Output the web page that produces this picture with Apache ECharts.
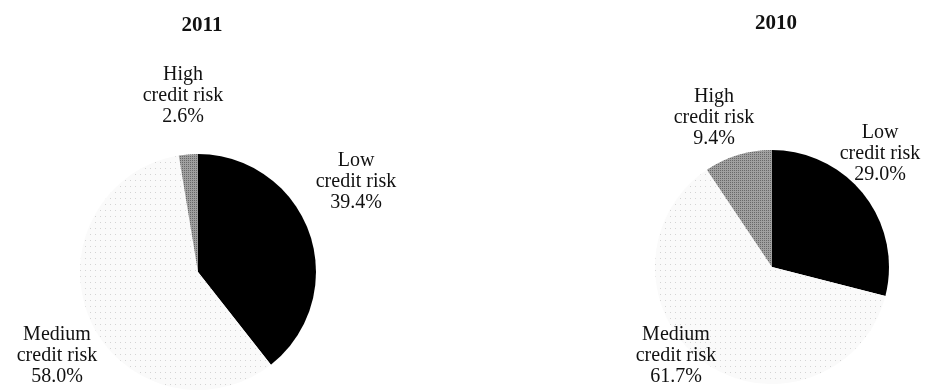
<!DOCTYPE html>
<html><head><meta charset="utf-8">
<script src="https://cdn.jsdelivr.net/npm/echarts@6/dist/echarts.min.js"></script>
<style>html,body{margin:0;padding:0;background:#fff}#c{width:940px;height:390px}</style>
</head><body><div id="c"></div>
<script>
const categories = ['Low\ncredit risk', 'Medium\ncredit risk', 'High\ncredit risk'];
const values2011 = [39.4, 58.0, 2.6];
const values2010 = [29.0, 61.7, 9.4];
const titles = ['2011', '2010'];

const colors = ['#000000', '#fafafa', '#a0a0a0'];
const decals = [
  null,
  {symbol: 'rect', symbolSize: 1, dashArrayX: [1, 4], dashArrayY: [1, 5], color: 'rgba(0,0,0,0.15)'},
  {symbol: 'rect', symbolSize: 1, dashArrayX: [1, 1], dashArrayY: [1, 1], color: 'rgba(0,0,0,0.35)'}
];

const labelPos = [
  [[356, 182], [57, 356], [183, 96]],
  [[880, 154], [676, 356], [714, 118]]
];

function buildData(vals) {
  return vals.map((v, i) => ({
    name: categories[i],
    value: v,
    itemStyle: Object.assign({color: colors[i]}, decals[i] ? {decal: decals[i]} : {})
  }));
}

const font = '"Liberation Serif", "Times New Roman", serif';
function series(vals, center, r, si) {
  return {
    type: 'pie',
    center: center,
    radius: r,
    startAngle: 90,
    clockwise: true,
    animation: false,
    silent: true,
    data: buildData(vals),
    itemStyle: {borderWidth: 0},
    label: {
      show: true,
      position: 'outside',
      formatter: p => p.name + '\n' + p.value.toFixed(1) + '%',
      fontFamily: font,
      fontSize: 20,
      lineHeight: 21,
      color: '#111',
      align: 'center',
      overflow: 'none'
    },
    labelLine: {show: false},
    labelLayout: p => ({
      x: labelPos[si][p.dataIndex][0],
      y: labelPos[si][p.dataIndex][1],
      align: 'center',
      verticalAlign: 'middle'
    })
  };
}

const chart = echarts.init(document.getElementById('c'), null, {renderer: 'canvas'});
chart.setOption({
  backgroundColor: '#fff',
  title: [
    {text: titles[0], left: 197, top: 10, textAlign: 'center',
     textStyle: {fontFamily: font, fontWeight: 'bold', fontSize: 21, color: '#111'}},
    {text: titles[1], left: 771, top: 8, textAlign: 'center',
     textStyle: {fontFamily: font, fontWeight: 'bold', fontSize: 21, color: '#111'}}
  ],
  series: [
    series(values2011, [198, 272], 118, 0),
    series(values2010, [772, 267], 117, 1)
  ]
});
</script></body></html>
